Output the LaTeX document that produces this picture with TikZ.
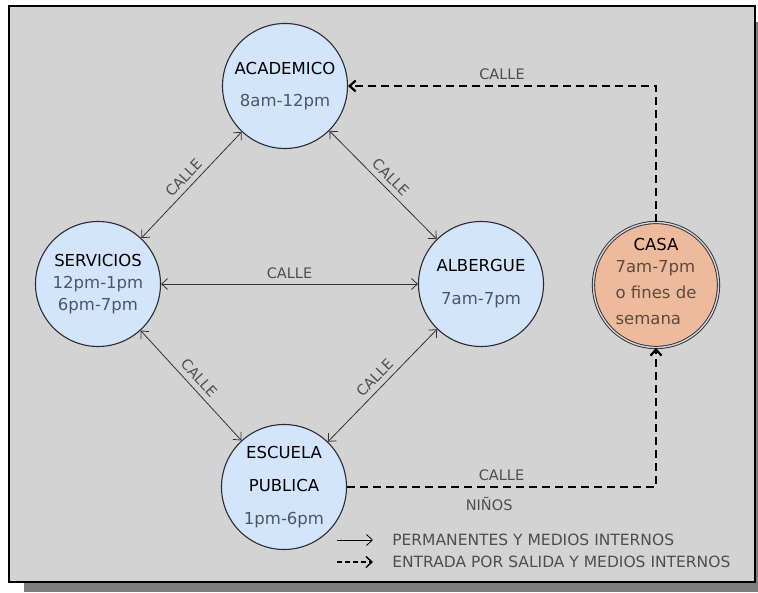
\documentclass[tikz,border=0pt]{standalone}
\usepackage{fontspec}
\setmainfont{DejaVu Sans}
\usetikzlibrary{automata}
\usetikzlibrary{arrows.meta}

\definecolor{panelgray}{HTML}{D3D3D3}
\definecolor{shadowgray}{HTML}{7E7E7E}
\definecolor{nodeblue}{HTML}{D3E5FA}
\definecolor{nodepeach}{HTML}{EDBA9B}
\definecolor{ringline}{HTML}{2B2B36}
\definecolor{timeblue}{HTML}{4A566C}
\definecolor{timebrown}{HTML}{5E4A3E}
\definecolor{streetgray}{HTML}{4E4E4E}

\begin{document}
\begin{tikzpicture}[x=1pt,y=1pt,>={Straight Barb[length=6pt,width=11pt]},auto,semithick]
\tikzstyle{every state}=[fill=nodeblue,draw=ringline,text=black,line width=1.1pt,
                         minimum size=125pt,inner sep=0pt,align=center,
                         font=\fontsize{16.5}{20}\selectfont]
\tikzset{street/.style={sloped,above,inner sep=5pt,text=streetgray,
                        font=\fontsize{14.5}{16}\selectfont},
         legendtext/.style={anchor=west,inner sep=0pt,text=streetgray,
                            font=\fontsize{15.5}{18}\selectfont},
         walkway/.style={->,dashed,line width=2.2pt,dash pattern=on 8pt off 5pt}}

        % frame
        \useasboundingbox (0,0) rectangle (758,592);
        \fill[shadowgray] (24,0) rectangle (758,570);
        \draw[fill=panelgray,line width=1.4pt] (9,10) rectangle (755,586);

        \node[state]                  (ACAD) at (285,506) {ACADEMICO\\[12pt]{\color{timeblue}8am-12pm}};
        \node[state]                  (SERV) at (98,308)  {SERVICIOS\\[2pt]{\color{timeblue}12pm-1pm}\\[2pt]{\color{timeblue}6pm-7pm}};
        \node[state]                  (ALB)  at (481,308) {ALBERGUE\\[13pt]{\color{timeblue}7am-7pm}};
        \node[state]                  (ESC)  at (284,105) {ESCUELA\\[13pt]PUBLICA\\[13pt]{\color{timeblue}1pm-6pm}};
        \node[state,fill=nodepeach,double=panelgray,double distance=1.4pt,line width=0.9pt]
                                      (CASA) at (656,307) {CASA\\[3pt]{\color{timebrown}\renewcommand{\arraystretch}{1.3}%
                                                           \begin{tabular}{@{}l@{}}7am-7pm\\o fines de\\semana\end{tabular}}};

        \path[<->,draw=black!80,line width=0.8pt]
        (ACAD) edge node[street] {CALLE} (SERV)
        (ACAD) edge node[street] {CALLE} (ALB)
        (SERV) edge node[street] {CALLE} (ALB)
        (SERV) edge node[street] {CALLE} (ESC)
        (ESC)  edge node[street] {CALLE} (ALB)
        ; %end path

        \draw[walkway] (CASA.north) |- node[street,pos=0.75] {CALLE} (ACAD);
        \draw[walkway] (ESC) -| node[street,pos=0.25] {CALLE}
                                node[street,below,inner sep=9pt,pos=0.23] {NIÑOS} (CASA.south);

        % legend
        \coordinate (solidA) at (337,52);
        \coordinate (solidB) at (373,52);
        \coordinate (dashA)  at (337,30);
        \coordinate (dashB)  at (373,30);
        \draw[->,line width=0.8pt] (solidA) -- (solidB);
        \draw[walkway,line width=1.4pt,dash pattern=on 5pt off 3pt] (dashA) -- (dashB);
        \node[legendtext] (perm) at (392,52) {PERMANENTES Y MEDIOS INTERNOS};
        \node[legendtext] (entr) at (392,30) {ENTRADA POR SALIDA Y MEDIOS INTERNOS};

\end{tikzpicture}
\end{document}
